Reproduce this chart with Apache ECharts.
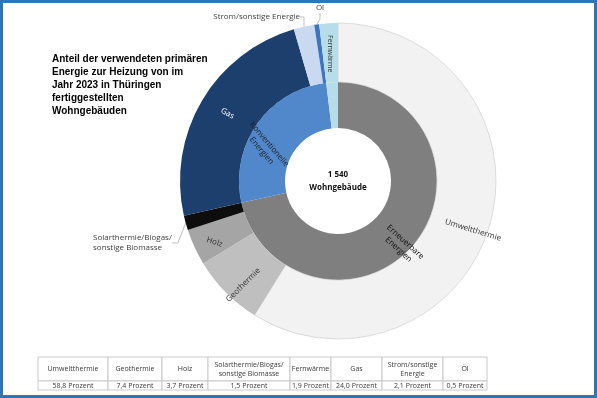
<!DOCTYPE html>
<html>
<head>
<meta charset="utf-8">
<title>Heizenergie Thüringen 2023</title>
<script src="https://cdn.jsdelivr.net/npm/echarts@6/dist/echarts.min.js"></script>
<style>
html, body { margin: 0; padding: 0; background: #fff; }
#chart { width: 597px; height: 398px; }
</style>
</head>
<body>
<div id="chart"></div>
<script>
// Daten (Reihenfolge wie in der Tabelle)
var kategorien = ['Umweltthermie', 'Geothermie', 'Holz', 'Solarthermie/Biogas/sonstige Biomasse', 'Fernwärme', 'Gas', 'Strom/sonstige Energie', 'Öl'];
var anteile = [58.8, 7.4, 3.7, 1.5, 1.9, 24.0, 2.1, 0.5];
var tabellenKopf = ['Umweltthermie', 'Geothermie', 'Holz', 'Solarthermie/Biogas/\nsonstige Biomasse', 'Fernwärme', 'Gas', 'Strom/sonstige\nEnergie', 'Öl'];
var tabellenWerte = ['58,8 Prozent', '7,4 Prozent', '3,7 Prozent', '1,5 Prozent', '1,9 Prozent', '24,0 Prozent', '2,1 Prozent', '0,5 Prozent'];

// Reihenfolge im äußeren Ring (im Uhrzeigersinn ab 12 Uhr)
var ringFolge = [0, 1, 2, 3, 5, 6, 7, 4];
// innerer Ring: Gruppen
var gruppen = ['Erneuerbare\nEnergien', 'Konventionelle\nEnergien', 'Fernwärme'];
var gruppenGlieder = [[0, 1, 2, 3], [5, 6, 7], [4]];

var anzahl = '1 540';
var titel = 'Anteil der verwendeten primären\nEnergie zur Heizung von im\nJahr 2023 in Thüringen\nfertiggestellten\nWohngebäuden';

// Farben
var farben = ['#f2f2f2', '#bfbfbf', '#a5a5a5', '#0d0d0d', '#b7dee8', '#1c3f6e', '#c9d9ef', '#3f74c2'];
var gruppenFarben = ['#7f7f7f', '#5187cb', '#b7dee8'];

var mitte = [338, 181];
var schrift = 'Open Sans';

// Beschriftungen im Ring
var labelStil = {
    'Umweltthermie': { rotate: -17, color: '#333', dx: 12, dy: 10 },
    'Geothermie': { rotate: 45, color: '#333', dx: -9, dy: 7 },
    'Holz': { rotate: -18, color: '#333', dx: -2, dy: 7 },
    'Gas': { rotate: -30, color: '#fff', dx: 2, dy: -2 },
    'Fernwärme': { rotate: -90, color: '#333', dx: 4, dy: 0 }
};
// Beschriftungen außen (Position)
var aussenPos = {
    'Strom/sonstige Energie': { x: 300, y: 17, align: 'right' },
    'Öl': { x: 320, y: 8, align: 'center' },
    'Solarthermie/Biogas/sonstige Biomasse': { x: 93, y: 243, align: 'left' }
};
var aussenText = {
    'Strom/sonstige Energie': 'Strom/sonstige Energie',
    'Öl': 'Öl',
    'Solarthermie/Biogas/sonstige Biomasse': 'Solarthermie/Biogas/\nsonstige Biomasse'
};

var aussenDaten = ringFolge.map(function (i) {
    var name = kategorien[i];
    var item = {
        name: name,
        value: anteile[i],
        itemStyle: { color: farben[i] }
    };
    if (aussenPos[name]) {
        item.label = {
            show: true,
            position: 'outside',
            formatter: aussenText[name],
            color: '#404040',
            fontSize: 8,
            lineHeight: 10,
            align: aussenPos[name].align,
            rotate: 0
        };
        item.labelLine = { show: true, length: 6, length2: 6, lineStyle: { color: '#bfbfbf', width: 1 } };
    } else {
        var s = labelStil[name];
        item.label = {
            show: true,
            position: 'inside',
            formatter: name,
            color: s.color,
            rotate: s.rotate,
            fontSize: name == 'Fernwärme' ? 7 : 8
        };
        item.labelLine = { show: false };
    }
    if (name == 'Umweltthermie') {
        item.itemStyle.borderColor = '#c8c8c8';
        item.itemStyle.borderWidth = 0.6;
    }
    return item;
});

var innenDaten = gruppen.map(function (g, k) {
    var summe = 0;
    gruppenGlieder[k].forEach(function (i) { summe += anteile[i]; });
    var item = {
        name: g,
        value: Math.round(summe * 10) / 10,
        itemStyle: { color: gruppenFarben[k] }
    };
    if (k == 0) item.label = { show: true, rotate: -42, color: '#111', align: 'left' };
    else if (k == 1) item.label = { show: true, rotate: -50, color: '#222', align: 'left' };
    else item.label = { show: false };
    return item;
});

// Tabelle
var spaltenX = [38, 108, 162, 208, 290, 331, 382, 443, 487];
var zeilenY = [357, 381, 390];
var tabelle = [];
for (var i = 0; i < tabellenKopf.length; i++) {
    for (var r = 0; r < 2; r++) {
        var x0 = spaltenX[i], w = spaltenX[i + 1] - spaltenX[i];
        var y0 = zeilenY[r], h = zeilenY[r + 1] - zeilenY[r];
        tabelle.push({
            type: 'rect',
            shape: { x: x0, y: y0, width: w, height: h },
            style: { fill: '#fff', stroke: '#c9c9c9', lineWidth: 1 }
        });
        tabelle.push({
            type: 'text',
            x: x0 + w / 2,
            y: y0 + h / 2,
            style: {
                text: r == 0 ? tabellenKopf[i] : tabellenWerte[i],
                fontFamily: schrift,
                fontSize: 7,
                lineHeight: 9,
                fill: '#3a3a3a',
                textAlign: 'center',
                textVerticalAlign: 'middle'
            }
        });
    }
}

var chart = echarts.init(document.getElementById('chart'));
chart.setOption({
    animation: false,
    textStyle: { fontFamily: schrift },
    graphic: [
        {
            type: 'rect',
            shape: { x: 1.5, y: 1.5, width: 594, height: 395 },
            style: { fill: 'none', stroke: '#2e75b6', lineWidth: 3 },
            z: 10
        },
        {
            type: 'text',
            x: 52,
            y: 53,
            style: {
                text: titel,
                fontFamily: 'Liberation Sans',
                fontWeight: 'bold',
                fontSize: 10,
                lineHeight: 13,
                fill: '#000'
            }
        },
        {
            type: 'text',
            x: mitte[0],
            y: mitte[1],
            z: 5,
            style: {
                text: anzahl + '\nWohngebäude',
                fontFamily: schrift,
                fontWeight: 'bold',
                fontSize: 8,
                lineHeight: 13,
                fill: '#111',
                textAlign: 'center',
                textVerticalAlign: 'middle'
            }
        },
        {
            type: 'group',
            children: tabelle
        }
    ],
    series: [
        {
            name: 'Gruppen',
            type: 'pie',
            center: mitte,
            radius: [53, 99],
            startAngle: 90,
            clockwise: true,
            label: { position: 'inside', fontSize: 8, lineHeight: 10 },
            labelLine: { show: false },
            data: innenDaten,
            labelLayout: function (p) {
                if (p.dataIndex == 0) return { dx: 12, dy: 10 };
                if (p.dataIndex == 1) return { dx: 4, dy: 14 };
                return {};
            }
        },
        {
            name: 'Energieträger',
            type: 'pie',
            center: mitte,
            radius: [99, 158],
            startAngle: 90,
            clockwise: true,
            avoidLabelOverlap: false,
            data: aussenDaten,
            labelLayout: function (p) {
                var name = aussenDaten[p.dataIndex].name;
                var pos = aussenPos[name];
                if (pos) {
                    return { x: pos.x, y: pos.y, align: pos.align, verticalAlign: 'middle' };
                }
                var s = labelStil[name];
                return { dx: s.dx, dy: s.dy };
            }
        }
    ]
});
</script>
</body>
</html>
